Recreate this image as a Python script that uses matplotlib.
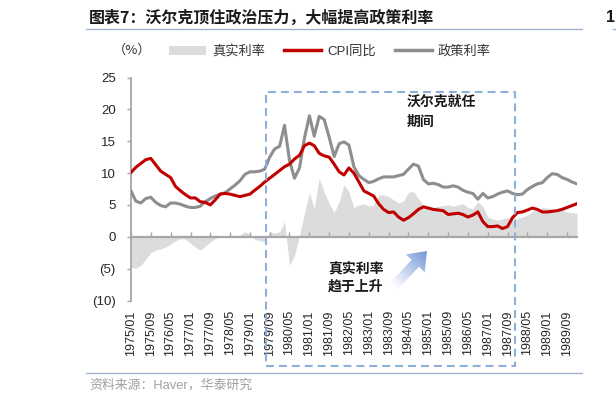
import matplotlib
matplotlib.use('Agg')
import matplotlib.pyplot as plt
import matplotlib.dates as mdates
import matplotlib.transforms as mtransforms
from matplotlib.patches import Rectangle, FancyArrow, Patch
from matplotlib.lines import Line2D
from matplotlib.colors import LinearSegmentedColormap
import numpy as np
import pandas as pd

plt.rcParams['font.family'] = ['Liberation Sans', 'Noto Sans CJK SC']
plt.rcParams['axes.unicode_minus'] = False

# 数据：每两个月一个点（1975/01 - 1990/01）
dates = pd.date_range('1975-01-01', periods=91, freq='2MS')

cpi_yoy = [10.1, 10.9, 11.5, 12.1, 12.3, 11.3, 10.3, 9.8, 9.3, 7.9,
           7.2, 6.6, 6.1, 6.1, 5.5, 5.4, 5.0, 5.8, 6.7, 6.8,
           6.7, 6.5, 6.3, 6.5, 6.7, 7.3, 7.9, 8.6, 9.2, 9.8,
           10.4, 11.0, 11.4, 12.2, 12.8, 14.3, 14.7, 14.3, 13.1, 12.7,
           12.5, 11.4, 10.2, 9.7, 10.8, 10.0, 8.6, 7.2, 6.8, 6.4,
           5.2, 4.3, 3.8, 3.9, 3.1, 2.6, 3.0, 3.6, 4.3, 4.7,
           4.5, 4.3, 4.2, 4.1, 3.5, 3.6, 3.7, 3.5, 3.1, 3.4,
           3.9, 2.4, 1.6, 1.6, 1.7, 1.3, 1.6, 3.0, 3.8, 3.9,
           4.2, 4.5, 4.3, 3.9, 3.9, 4.0, 4.1, 4.3, 4.6, 4.9,
           5.2]

policy_rate = [7.2, 5.6, 5.3, 6.0, 6.2, 5.4, 4.9, 4.7, 5.3, 5.3,
               5.1, 4.8, 4.6, 4.6, 4.8, 5.5, 6.0, 6.4, 6.7, 6.9,
               7.5, 8.1, 8.8, 9.8, 10.2, 10.2, 10.3, 10.6, 12.5, 13.8,
               14.2, 17.5, 12.0, 9.2, 10.8, 15.5, 19.0, 15.8, 18.9, 18.4,
               15.6, 12.6, 14.6, 14.9, 14.4, 11.0, 9.6, 9.0, 8.5, 8.7,
               9.1, 9.4, 9.4, 9.4, 9.6, 9.8, 10.6, 11.4, 11.1, 9.0,
               8.3, 8.4, 8.2, 7.8, 7.8, 8.0, 7.8, 7.3, 7.0, 6.8,
               5.9, 6.8, 6.1, 6.3, 6.7, 7.0, 7.2, 6.8, 6.6, 6.7,
               7.4, 7.9, 8.3, 8.5, 9.3, 9.9, 9.8, 9.3, 9.0, 8.6,
               8.3]

real_rate = [-4.8, -4.9, -4.5, -3.5, -2.5, -2.1, -1.9, -1.6, -1.2, -0.6,
             -0.3, -0.4, -1.0, -1.6, -2.1, -1.5, -0.8, -0.3, 0.0, 0.1,
             0.2, 0.1, 0.3, 0.8, 0.4, -0.4, -0.6, -0.8, 0.8, 0.6,
             0.8, 2.4, -4.5, -3.0, 0.3, 3.7, 6.9, 4.5, 9.2, 7.0,
             5.2, 3.8, 5.5, 8.2, 7.0, 4.6, 5.0, 5.2, 4.8, 5.0,
             6.5, 6.6, 6.3, 5.8, 5.3, 5.6, 7.0, 7.1, 6.0, 4.9,
             4.7, 4.6, 4.8, 4.9, 5.0, 4.8, 5.0, 5.2, 4.6, 4.4,
             5.5, 4.8, 3.1, 2.8, 2.6, 2.8, 3.0, 2.5, 2.8, 3.1,
             3.4, 4.0, 4.3, 4.6, 4.5, 4.3, 4.2, 4.2, 3.9, 3.8,
             3.7]

tick_dates = pd.date_range('1975-01-01', '1989-09-01', freq='8MS')
tick_labels = [d.strftime('%Y/%m') for d in tick_dates]
y_ticks = [25, 20, 15, 10, 5, 0, -5, -10]
y_labels = ['25', '20', '15', '10', '5', '0', '(5)', '(10)']
series_names = ['真实利率', 'CPI同比', '政策利率']
volcker_span = ('1979-07-20', '1987-12-05')

RED = '#C00000'
GREY = '#8E8E8E'
FILL = '#DCDCDC'
AXIS = '#A6A6A6'
BOX = '#8DB0DB'
CJK = ['Noto Sans CJK SC', 'Liberation Sans']

fig = plt.figure(figsize=(6.16, 4.03), dpi=100)
ax = fig.add_axes([131 / 616, 1 - 300.5 / 403, 446 / 616, 223 / 403])

ax.fill_between(dates, 0, real_rate, color=FILL, lw=0, zorder=1)
ax.plot(dates, policy_rate, color=GREY, lw=2.2, zorder=3)
ax.plot(dates, cpi_yoy, color=RED, lw=2.2, zorder=4)

ax.set_xlim(pd.Timestamp('1975-01-01'), pd.Timestamp('1990-01-01'))
ax.set_ylim(-10, 25)

for s in ['top', 'right']:
    ax.spines[s].set_visible(False)
ax.spines['left'].set_color(AXIS)
ax.spines['left'].set_linewidth(1.3)
ax.spines['bottom'].set_position(('data', 0))
ax.spines['bottom'].set_color(AXIS)
ax.spines['bottom'].set_linewidth(1.6)

ax.set_xticks(mdates.date2num(tick_dates))
ax.tick_params(axis='x', direction='in', length=3.5, width=1, color=AXIS,
               labelbottom=False)
ax.set_yticks(y_ticks)
ax.set_yticklabels(y_labels)
ax.tick_params(axis='y', length=3, width=1, color=AXIS, labelsize=9.5,
               labelcolor='#262626', pad=8)

# 底部日期标签
sec = ax.secondary_xaxis('bottom')
sec.set_xticks(mdates.date2num(tick_dates))
sec.set_xticklabels(tick_labels, rotation=90)
sec.tick_params(length=0, pad=7, labelsize=9, labelcolor='#262626')
sec.spines['bottom'].set_visible(False)

# 沃尔克任期虚线框
trans = mtransforms.blended_transform_factory(ax.transData, ax.transAxes)
x0 = mdates.date2num(pd.Timestamp(volcker_span[0]))
x1 = mdates.date2num(pd.Timestamp(volcker_span[1]))
ax.add_patch(Rectangle((x0, -0.294), x1 - x0, 0.936 + 0.294, transform=trans,
                       fill=False, edgecolor=BOX, lw=1.5, ls=(0, (3.8, 2.4)),
                       clip_on=False, zorder=5))

# 图例
handles = [Patch(facecolor=FILL, edgecolor='none'),
           Line2D([], [], color=RED, lw=2.5),
           Line2D([], [], color=GREY, lw=2.5)]
fig.legend(handles, series_names, loc='center left',
           bbox_to_anchor=(169 / 616, 1 - 51.5 / 403), ncol=3, frameon=False,
           fontsize=9.5, handlelength=2.8, handletextpad=0.45,
           columnspacing=1.45, borderpad=0, borderaxespad=0,
           labelcolor='#333333')

# 叠加层：标题、注释、箭头
ov = fig.add_axes([0, 0, 1, 1])
ov.set_facecolor('none')
ov.axis('off')

ov.text(89, 18, '图表7：沃尔克顶住政治压力，大幅提高政策利率', fontsize=11.5,
        fontweight='bold', va='center', ha='left', color='#1a1a1a', family=CJK)
ov.plot([86, 582], [29, 29], color='#9FB4CC', lw=1)
ov.plot([613, 616], [29, 29], color='#9FB4CC', lw=1)
ov.text(606, 18, '1', fontsize=11.5, fontweight='bold', va='center',
        ha='left', color='#1a1a1a')
ov.text(113, 50, '（%）', fontsize=9.5, va='center', ha='left', color='#333333',
        family=CJK)

ov.text(407, 95, '沃尔克就任\n期间', fontsize=10, fontweight='bold',
        va='top', ha='left', linespacing=1.5, color='#1a1a1a', family=CJK)
ov.text(328, 261, '真实利率\n趋于上升', fontsize=10, fontweight='bold',
        va='top', ha='left', linespacing=1.4, color='#1a1a1a', family=CJK)

arrow = FancyArrow(392, 288, 35, -37, width=10, head_width=26, head_length=17,
                   length_includes_head=True, facecolor='none',
                   edgecolor='none')
ov.add_patch(arrow)
gx, gy = np.meshgrid(np.linspace(380, 440, 120), np.linspace(240, 300, 120))
d = np.array([35.0, -37.0])
dlen = np.hypot(*d)
proj = ((gx - 392) * d[0] + (gy - 288) * d[1]) / dlen / dlen
cmap = LinearSegmentedColormap.from_list('arr', ['#FFFFFF', '#7C9DD8'])
im = ov.imshow(proj, extent=(380, 440, 300, 240), origin='upper', cmap=cmap,
               vmin=0.05, vmax=0.95, aspect='auto', zorder=6)
im.set_clip_path(arrow)

ov.plot([86, 582], [373, 373], color='#9FB4CC', lw=1)
ov.text(89, 385, '资料来源：Haver，华泰研究', fontsize=9.3, va='center',
        ha='left', color='#A0A0A0')

ov.set_xlim(0, 616)
ov.set_ylim(403, 0)

fig.savefig('out.png', dpi=100)
